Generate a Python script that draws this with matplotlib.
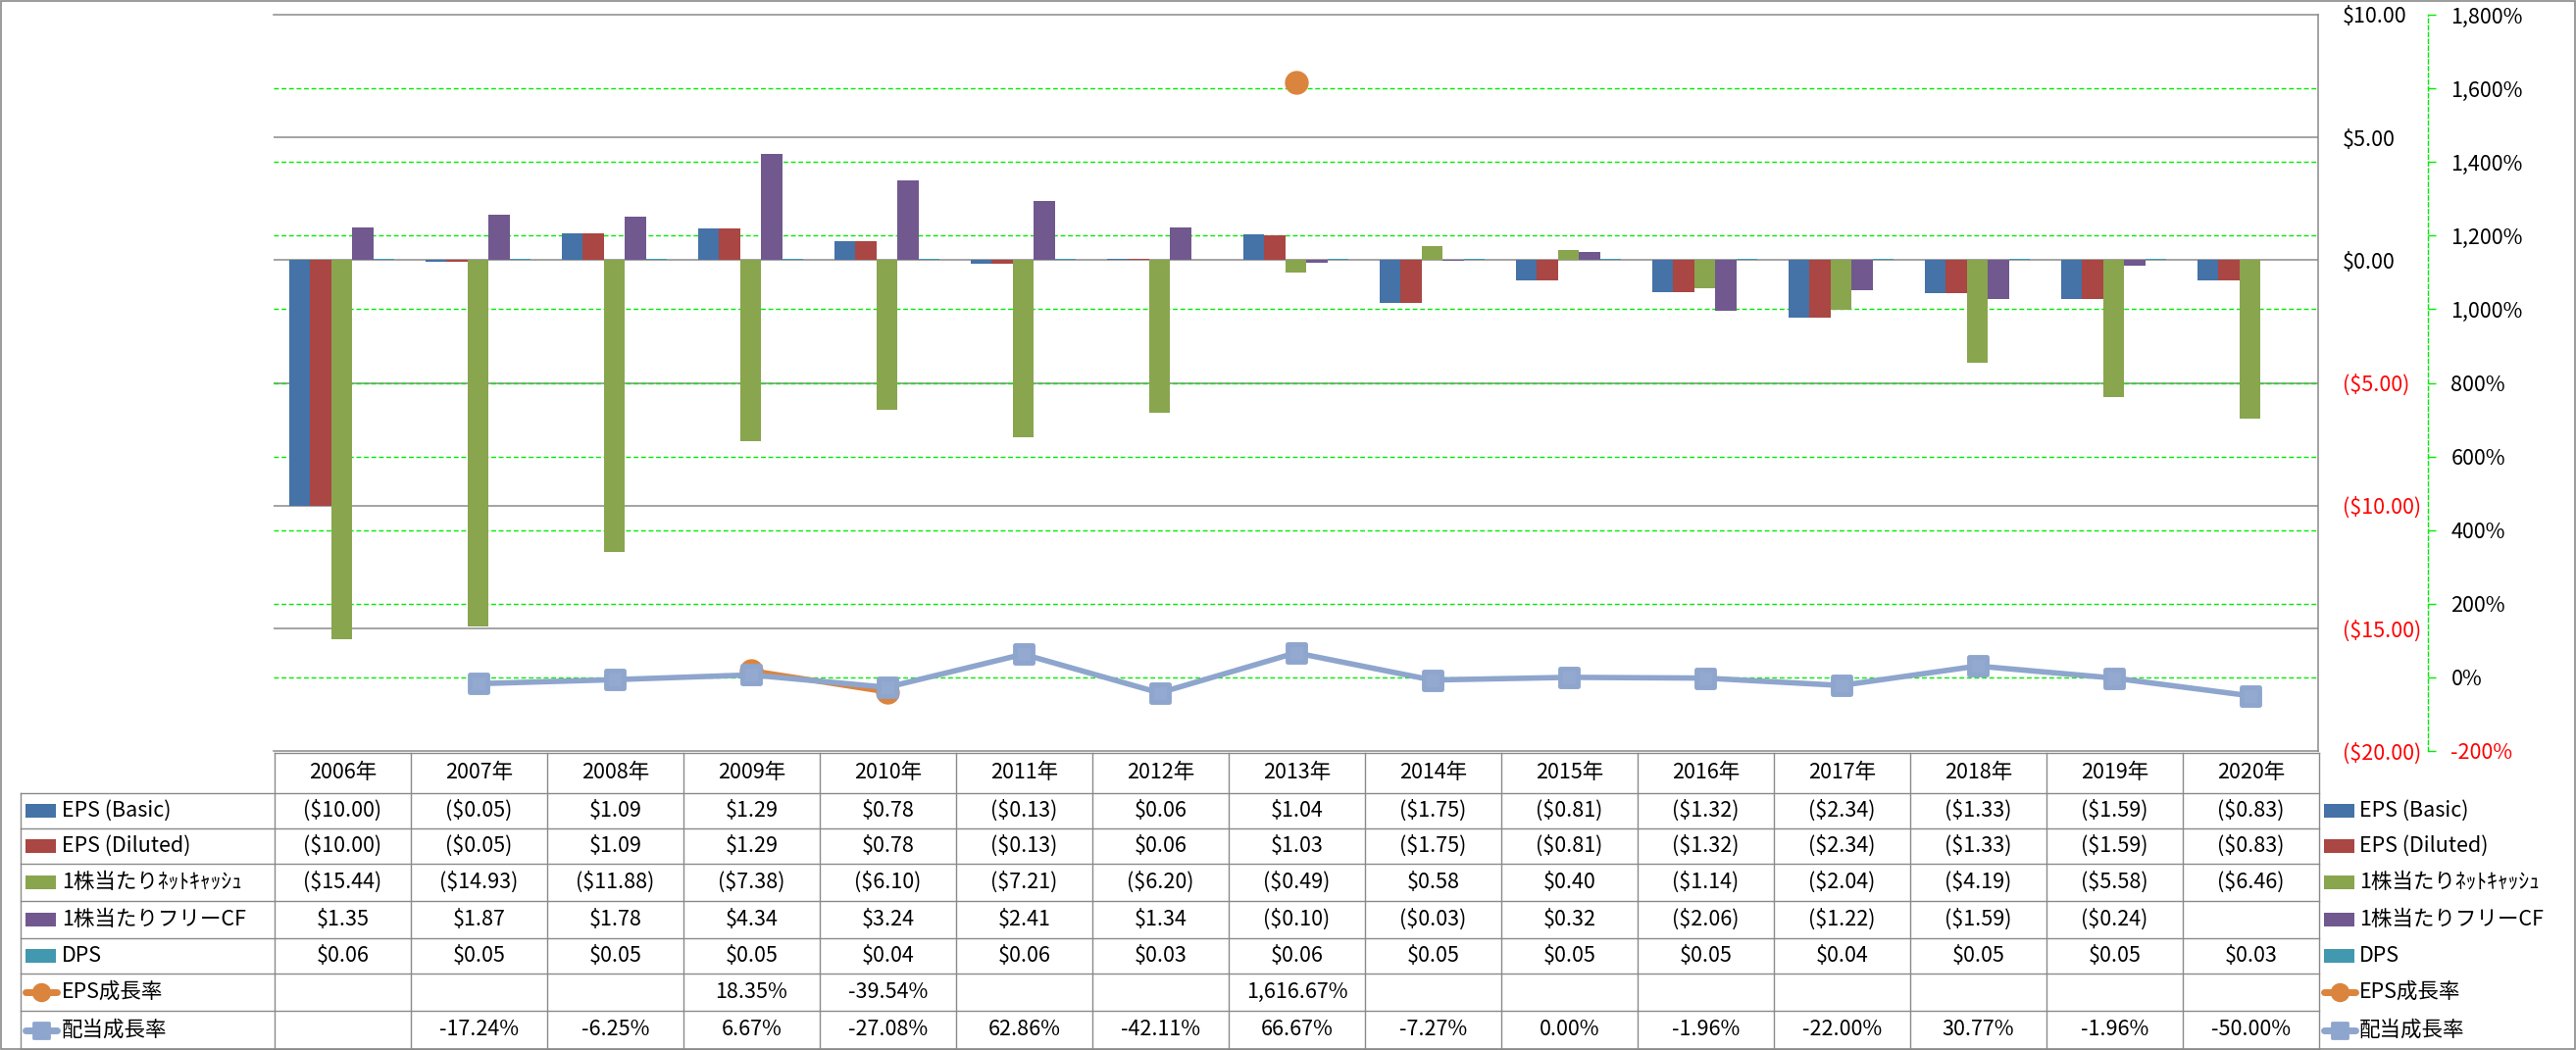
import numpy as np
import matplotlib
matplotlib.use("Agg")
import matplotlib.pyplot as plt
import matplotlib.transforms as mtransforms
from matplotlib.markers import MarkerStyle
from matplotlib.patches import Rectangle
from matplotlib.ticker import FuncFormatter

plt.rcParams['font.family'] = ['Noto Sans CJK JP', 'DejaVu Sans']

# ---- data ----
years = [f"{y}年" for y in range(2006, 2021)]
eps_basic = [-10.00, -0.05, 1.09, 1.29, 0.78, -0.13, 0.06, 1.04, -1.75, -0.81, -1.32, -2.34, -1.33, -1.59, -0.83]
eps_diluted = [-10.00, -0.05, 1.09, 1.29, 0.78, -0.13, 0.06, 1.03, -1.75, -0.81, -1.32, -2.34, -1.33, -1.59, -0.83]
net_cash = [-15.44, -14.93, -11.88, -7.38, -6.10, -7.21, -6.20, -0.49, 0.58, 0.40, -1.14, -2.04, -4.19, -5.58, -6.46]
free_cf = [1.35, 1.87, 1.78, 4.34, 3.24, 2.41, 1.34, -0.10, -0.03, 0.32, -2.06, -1.22, -1.59, -0.24, np.nan]
dps = [0.06, 0.05, 0.05, 0.05, 0.04, 0.06, 0.03, 0.06, 0.05, 0.05, 0.05, 0.04, 0.05, 0.05, 0.03]
eps_growth = [np.nan, np.nan, np.nan, 18.35, -39.54, np.nan, np.nan, 1616.67, np.nan, np.nan, np.nan, np.nan, np.nan, np.nan, np.nan]
div_growth = [np.nan, -17.24, -6.25, 6.67, -27.08, 62.86, -42.11, 66.67, -7.27, 0.00, -1.96, -22.00, 30.77, -1.96, -50.00]

bar_names = ['EPS (Basic)', 'EPS (Diluted)', '1株当たりﾈｯﾄｷｬｯｼｭ', '1株当たりフリーCF', 'DPS']
bar_colors = ['#4572A7', '#AA4643', '#89A54E', '#71588F', '#4198AF']
line_names = ['EPS成長率', '配当成長率']
line_colors = ['#DB843D', '#8EA5CD']

W, H = 2627, 1071
FS = 15.5
GRID_GRAY = '#8a8a8a'
GREEN = '#00EE00'

fig = plt.figure(figsize=(W / 100, H / 100), dpi=100)

# overlay for the data table / legend / border (pixel coordinates)
ov = fig.add_axes([0, 0, 1, 1])
ov.set_xlim(0, W)
ov.set_ylim(H, 0)
ov.axis('off')

x0, x1 = 279, 2364
ytop, ybot = 15, 766
ax = fig.add_axes([x0 / W, 1 - ybot / H, (x1 - x0) / W, (ybot - ytop) / H])
ax2 = ax.twinx()

n = len(years)
x = np.arange(n)
bw = 0.1535
series = [eps_basic, eps_diluted, net_cash, free_cf, dps]
for k, (vals, c) in enumerate(zip(series, bar_colors)):
    ax.bar(x + (k - 2) * bw, vals, width=bw, color=c, zorder=3, linewidth=0)

ax.set_xlim(-0.5, n - 0.5)
ax.set_ylim(-20, 10)
ax2.set_ylim(-200, 1800)

# gridlines
for v in range(-15, 10, 5):
    ax.axhline(v, color=GRID_GRAY, lw=1.1, zorder=1)
blend = mtransforms.blended_transform_factory(ax.transAxes, ax2.transData)
for p in range(0, 1800, 200):
    ax.plot([0, 1], [p, p], transform=blend, color=GREEN, lw=1.0,
            ls=(0, (3.5, 2)), zorder=1)

# growth lines on secondary axis
ax2.plot(x, eps_growth, color=line_colors[0], lw=4, marker='o', ms=16.5,
         mec=line_colors[0], mfc=line_colors[0], zorder=4)
sq = MarkerStyle('s', joinstyle='round')
ax2.plot(x, div_growth, color=line_colors[1], lw=4, marker=sq, ms=13.5,
         mec=line_colors[1], mew=3.5, mfc='#93A9CF', zorder=5)

# spines
ax.spines['left'].set_visible(False)
for s in ['top', 'bottom', 'right']:
    ax.spines[s].set_color(GRID_GRAY)
    ax.spines[s].set_linewidth(1.1)
for s in ['left', 'top', 'bottom']:
    ax2.spines[s].set_visible(False)
ax2.spines['right'].set_position(('outward', 80.5))
ax2.spines['right'].set_color(GREEN)
ax2.spines['right'].set_linestyle((0, (3, 2)))
ax2.spines['right'].set_linewidth(1.0)

ax.set_xticks([])
ax.set_yticks(range(-20, 11, 5))
ax.yaxis.tick_right()
ax.yaxis.set_major_formatter(FuncFormatter(
    lambda v, p: f"(${abs(v):.2f})" if v < 0 else f"${v:.2f}"))
ax.tick_params(axis='y', length=0, pad=18, labelsize=FS)
for t in ax.get_yticklabels():
    t.set_color('red' if t.get_position()[1] < 0 else 'black')

ax2.set_yticks(range(-200, 1801, 200))
ax2.yaxis.set_major_formatter(FuncFormatter(lambda v, p: f"{v:,.0f}%"))
ax2.tick_params(axis='y', direction='out', length=6, width=1, color=GREEN,
                pad=11, labelsize=FS)
for t in ax2.get_yticklabels():
    t.set_color('red' if t.get_position()[1] < 0 else 'black')

# ---- data table ----
row_edges = [768, 809, 845, 881, 919, 957, 993, 1031, 1070]
lab_x0 = 21
cw = (x1 - x0) / n
col_edges = [x0 + 1 + k * cw for k in range(n + 1)]
lc = dict(color=GRID_GRAY, lw=1.0)

ov.plot([col_edges[0], col_edges[-1]], [row_edges[0]] * 2, **lc)
for y in row_edges[1:]:
    ov.plot([lab_x0, col_edges[-1]], [y, y], **lc)
ov.plot([lab_x0, lab_x0], [row_edges[1], row_edges[-1]], **lc)
for xe in col_edges:
    ov.plot([xe, xe], [row_edges[0], row_edges[-1]], **lc)


def money(v):
    if np.isnan(v):
        return ''
    return f"(${abs(v):.2f})" if v < 0 else f"${v:.2f}"


def pct(v):
    if np.isnan(v):
        return ''
    return f"{v:,.2f}%"


rows = [[money(v) for v in s] for s in series]
rows += [[pct(v) for v in eps_growth], [pct(v) for v in div_growth]]
centers = [(row_edges[i] + row_edges[i + 1]) / 2 for i in range(len(row_edges) - 1)]
col_c = [(col_edges[i] + col_edges[i + 1]) / 2 for i in range(n)]

for j, yl in enumerate(years):
    ov.text(col_c[j], centers[0], yl, ha='center', va='center', fontsize=FS)
for i, r in enumerate(rows):
    for j, s in enumerate(r):
        ov.text(col_c[j], centers[i + 1], s, ha='center', va='center', fontsize=FS)

# legend keys (left in the table and right of the chart)
names = bar_names + line_names
for lx, tx in [(26, 63), (2370, 2406)]:
    for i, name in enumerate(names):
        yc = centers[i + 1]
        if i < 5:
            ov.add_patch(Rectangle((lx, yc - 7), 31, 14, color=bar_colors[i], lw=0))
        else:
            c = line_colors[i - 5]
            mk = 'o' if i == 5 else sq
            ov.plot([lx, lx + 32], [yc, yc], color=c, lw=5, solid_capstyle='round')
            ov.plot([lx + 16], [yc], color=c, marker=mk, ms=12, mec=c, mew=2)
        ov.text(tx, yc, name, ha='left', va='center', fontsize=FS)

# outer chart border
ov.add_patch(Rectangle((1, 1), W - 2, H - 2, fill=False, ec=GRID_GRAY, lw=1.2))

fig.savefig('out.png', dpi=100)
